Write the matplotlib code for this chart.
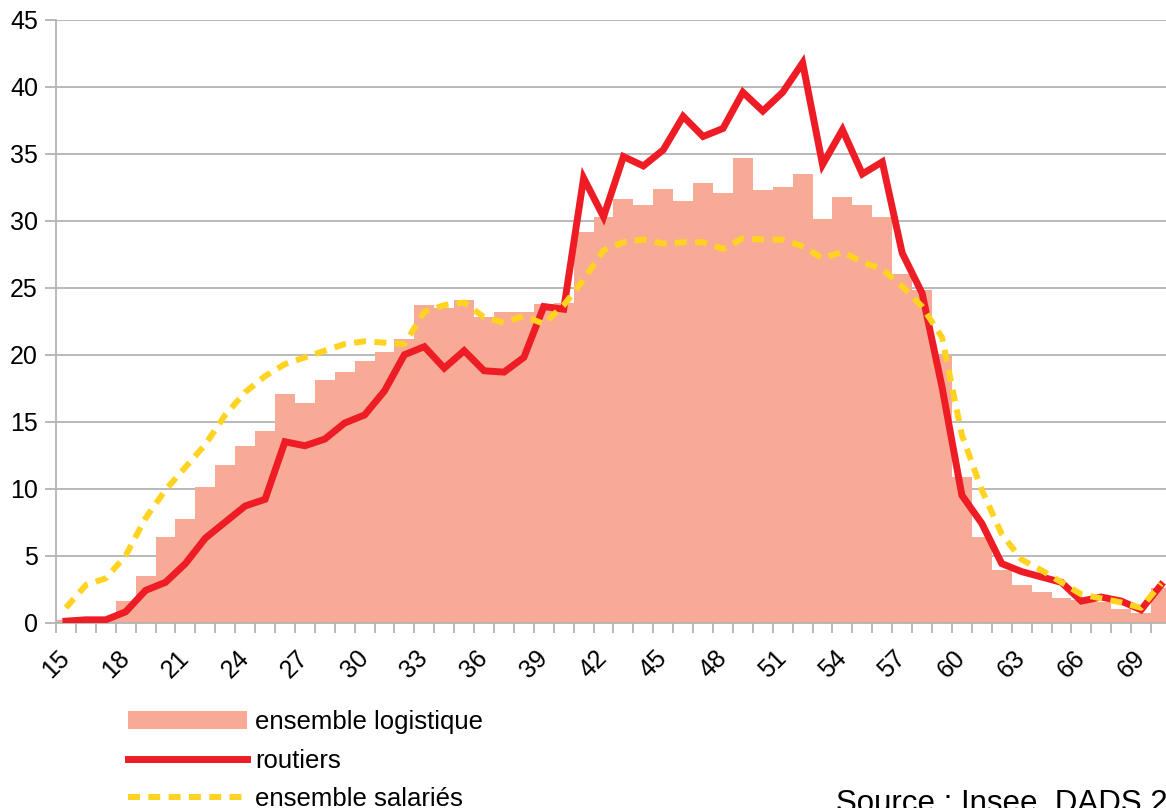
import matplotlib.pyplot as plt
from matplotlib.ticker import MultipleLocator, FixedLocator

plt.rcParams['font.family'] = ['Liberation Sans', 'DejaVu Sans']

# age des salariés, en années
ages = list(range(15, 71))

# part (en %) par âge
logistique = [0.15, 0.2, 0.3, 1.6, 3.5, 6.4, 7.7, 10.1, 11.8, 13.2,
              14.3, 17.1, 16.4, 18.1, 18.7, 19.5, 20.2, 21.2, 23.7, 23.5,
              24.1, 22.8, 23.2, 23.2, 23.8, 23.9, 29.2, 30.3, 31.6, 31.2,
              32.4, 31.5, 32.8, 32.1, 34.7, 32.3, 32.5, 33.5, 30.1, 31.8,
              31.2, 30.3, 26.0, 24.8, 20.0, 10.9, 6.4, 3.9, 2.8, 2.3,
              1.8, 1.7, 1.5, 1.0, 0.7, 2.6]

routiers = [0.1, 0.2, 0.2, 0.8, 2.4, 3.0, 4.4, 6.3, 7.5, 8.7,
            9.2, 13.5, 13.2, 13.7, 14.9, 15.5, 17.3, 20.0, 20.6, 19.0,
            20.3, 18.8, 18.7, 19.8, 23.6, 23.4, 33.2, 30.3, 34.8, 34.1,
            35.3, 37.8, 36.3, 36.9, 39.6, 38.2, 39.6, 41.8, 34.2, 36.8,
            33.5, 34.4, 27.6, 24.6, 17.6, 9.5, 7.4, 4.4, 3.8, 3.4,
            3.0, 1.6, 1.9, 1.6, 0.95, 2.8]

salaries = [1.1, 2.8, 3.3, 5.0, 7.8, 9.9, 11.6, 13.3, 15.5, 17.2,
            18.4, 19.3, 19.8, 20.3, 20.8, 21.0, 20.9, 20.8, 23.2, 23.7,
            23.9, 22.8, 22.4, 22.9, 22.3, 23.7, 25.6, 27.8, 28.4, 28.6,
            28.3, 28.4, 28.4, 27.9, 28.7, 28.6, 28.6, 28.1, 27.2, 27.7,
            26.9, 26.4, 25.1, 23.6, 21.3, 14.0, 9.9, 6.6, 4.7, 3.9,
            3.0, 2.1, 1.8, 1.5, 1.1, 2.9]

labels = ['ensemble logistique', 'routiers', 'ensemble salariés']
source = 'Source : Insee, DADS 2010'

GRIS = '#b3b3b3'

fig = plt.figure(figsize=(11.66, 8.08), dpi=100)
# la zone de tracé continue au-delà du bord droit, comme sur l'original
ax = fig.add_axes([56/1166, (808-622.5)/808, 1110/1166, (622.5-20)/808])

barres = ax.bar(ages, logistique, width=1.0, color='#f7aa96', linewidth=0,
                zorder=2)
l_rout, = ax.plot(ages, routiers, color='#ee1c25', lw=5,
                  solid_joinstyle='miter', zorder=3)
l_sal, = ax.plot(ages, salaries, color='#ffd320', lw=4.3, dashes=(2, 1.4),
                 zorder=4)

ax.set_xlim(14.5, 14.5 + 1110/19.91)
ax.set_ylim(0, 45)

ax.yaxis.set_major_locator(MultipleLocator(5))
ax.grid(axis='y', color=GRIS, lw=1.3)
ax.set_axisbelow(True)

ax.xaxis.set_major_locator(FixedLocator(ages[::3]))
ax.xaxis.set_minor_locator(FixedLocator([a - 0.5 for a in ages] + [70.5]))
ax.tick_params(axis='x', which='major', length=0, labelsize=18, pad=23)
ax.tick_params(axis='x', which='minor', length=7.5, width=1.3, color=GRIS)
ax.tick_params(axis='y', length=8, width=1.3, color=GRIS, labelsize=18, pad=5)
for t in ax.get_xticklabels():
    t.set_rotation(45)
    t.set_ha('right')
    t.set_va('center')
    t.set_rotation_mode('anchor')

for s in ['top', 'right']:
    ax.spines[s].set_visible(False)
for s in ['left', 'bottom']:
    ax.spines[s].set_color(GRIS)
    ax.spines[s].set_linewidth(1.3)

fig.legend([barres, l_rout, l_sal], labels,
           loc='upper left', bbox_to_anchor=(128/1166, (808-710)/808),
           frameon=False, fontsize=18.5, handlelength=4.65, handleheight=0.7,
           handletextpad=0.3, labelspacing=0.57, borderpad=0, borderaxespad=0)

fig.text(836/1166, -4/808, source, fontsize=22.5, va='baseline', ha='left')

fig.savefig('out.png', dpi=100)
